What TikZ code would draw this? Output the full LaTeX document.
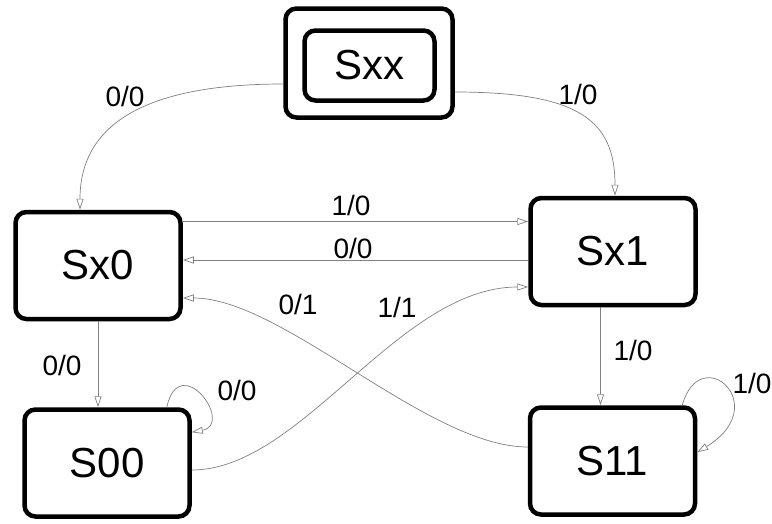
\documentclass[tikz,border=0pt]{standalone}
\usepackage{fontspec}
\setmainfont{Liberation Sans}
\usetikzlibrary{arrows.meta}

\tikzset{
  state/.style={draw,line width=4.5pt,rounded corners=11pt,inner sep=0pt,
    minimum width=165pt,minimum height=107pt,font=\fontsize{42}{42}\selectfont},
  trans/.style={draw=black!50,line width=0.7pt,
    -{Triangle[open,length=11pt,width=7pt]}},
  lbl/.style={inner sep=0pt,font=\fontsize{28}{28}\selectfont}
}

\begin{document}
\begin{tikzpicture}[x=1pt,y=-1pt]
\useasboundingbox (0,0) rectangle (772,523);

\node [state,minimum width=167pt,minimum height=109pt] (SxxO) at (369,63) {};
\node [state,minimum width=130pt,minimum height=70pt] (Sxx) at (369.5,65.5) {Sxx};
\node [state] (Sx0) at (98,265.5) {Sx0};
\node [state] (Sx1) at (613,251.5) {Sx1};
\node [state] (S00) at (107,463) {S00};
\node [state] (S11) at (612.5,461) {S11};

% from the start state
\draw [trans] ([yshift=-21pt]SxxO.west) .. controls +(-130,0) and +(0,-90) .. ([xshift=-18pt]Sx0.north);
\draw [trans] ([yshift=-29pt]SxxO.east) .. controls +(125,0) and +(0,-75) .. ([xshift=2pt]Sx1.north);
\node [lbl] (l1) at (125,96) {0/0};
\node [lbl] (l2) at (578,94) {1/0};

% between Sx0 and Sx1
\draw [trans] ([yshift=44pt]Sx0.east) coordinate (a) -- (a -| Sx1.west);
\draw [trans] ([yshift=-8.5pt]Sx1.west) coordinate (b) -- (b -| Sx0.east);
\node [lbl] (l3) at (351,205) {1/0};
\node [lbl] (l4) at (353,248) {0/0};

% crossing curves
\draw [trans] ([yshift=14pt]S11.west) .. controls +(-100,0) and +(100,0) .. ([yshift=-32.5pt]Sx0.east);
\draw [trans] ([yshift=-7pt]S00.east) .. controls +(110,0) and +(-130,0) .. ([yshift=-35.5pt]Sx1.west);
\node [lbl] (l5) at (298,304) {0/1};
\node [lbl] (l6) at (397,307) {1/1};

% down to the lower states
\draw [trans] (Sx0.south) -- (Sx0.south |- S00.north);
\draw [trans] ([xshift=-12.5pt]Sx1.south) coordinate (c) -- (c |- S11.north);
\node [lbl] (l7) at (62,365) {0/0};
\node [lbl] (l8) at (633,350) {1/0};

% self loops
\draw [trans] ([xshift=-25pt]S00.north east) .. controls +(13,-58) and +(43,-8) .. ([yshift=-25pt]S00.north east);
\draw [trans] ([xshift=-15pt]S11.north east) .. controls +(18,-65) and +(77,-47) .. ([yshift=-47pt]S11.north east);
\node [lbl] (l9) at (237,390) {0/0};
\node [lbl] (l10) at (752,383) {1/0};
\end{tikzpicture}
\end{document}
